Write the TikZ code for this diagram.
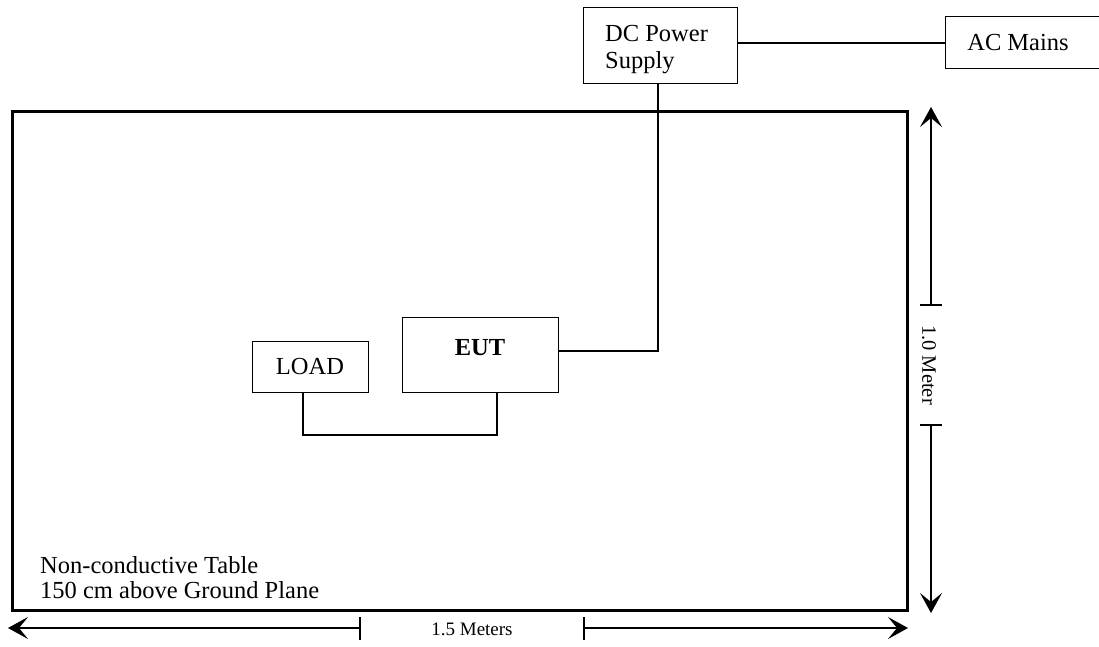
\documentclass[tikz,border=0pt]{standalone}
\usepackage{fontspec}
\setmainfont{Liberation Serif}
\usetikzlibrary{arrows.meta}
\begin{document}
\begin{tikzpicture}[x=1pt,y=-1pt,
  lbl/.style={font=\fontsize{24.5}{27}\selectfont, inner sep=0pt},
  small/.style={font=\fontsize{19}{22}\selectfont, inner sep=0pt},
  wire/.style={line width=1.4pt},
  dim/.style={line width=1.3pt, -{Stealth[length=20pt,width=22pt,inset=9pt]}},
  tick/.style={line width=1.3pt},
  boxstyle/.style={draw, line width=1.4pt, inner sep=0pt, anchor=north west}]
\useasboundingbox (0,0) rectangle (1099,646);
% table
\draw[line width=3pt] (12,111) rectangle (907,610);
% boxes
\node[boxstyle, minimum width=154pt, minimum height=76pt] (dc) at (583,7) {};
\node[boxstyle, minimum width=156pt, minimum height=52pt] (ac) at (945,16) {};
\node[boxstyle, minimum width=156pt, minimum height=75pt] (eut) at (402,317) {};
\node[boxstyle, minimum width=116pt, minimum height=51pt] (load) at (252,341) {};
% texts
\node[lbl, anchor=base west] (dct1) at (605,41) {DC Power};
\node[lbl, anchor=base west] (dct2) at (605,68) {Supply};
\node[lbl] (act) at (1018,43) {AC Mains};
\node[lbl] (eutt) at (480,348) {\textbf{EUT}};
\node[lbl] (loadt) at (310,366) {LOAD};
\node[lbl, anchor=base west] (tab1) at (40,573) {Non-conductive Table};
\node[lbl, anchor=base west] (tab2) at (40,598) {150 cm above Ground Plane};
% wires
\draw[wire] (dc.east |- 0,43) -- (ac.west |- 0,43);
\coordinate (dcb) at (658,83);
\draw[wire] (dcb) -- (658,351) -- (eut.east |- 0,351);
\draw[wire] (load.south -| 303,0) -- (303,435) -- (497,435) -- (eut.south -| 497,0);
% horizontal dimension
\coordinate (hl) at (360,628);
\coordinate (hr) at (584,628);
\coordinate (hlt) at (8,628);
\coordinate (hrt) at (908,628);
\draw[dim] (hl) -- (hlt);
\draw[dim] (hr) -- (hrt);
\draw[tick] (360,617) -- (360,640);
\draw[tick] (584,617) -- (584,640);
\node[small] (hm) at (472,629) {1.5 Meters};
% vertical dimension
\coordinate (vt) at (931,305);
\coordinate (vb) at (931,425);
\coordinate (vtt) at (931,107);
\coordinate (vbt) at (931,613);
\draw[dim] (vt) -- (vtt);
\draw[dim] (vb) -- (vbt);
\draw[tick] (920,305) -- (942,305);
\draw[tick] (920,425) -- (942,425);
\node[small, font=\fontsize{20.5}{22}\selectfont, rotate=-90] (vm) at (929,365) {1.0 Meter};
\end{tikzpicture}
\end{document}
